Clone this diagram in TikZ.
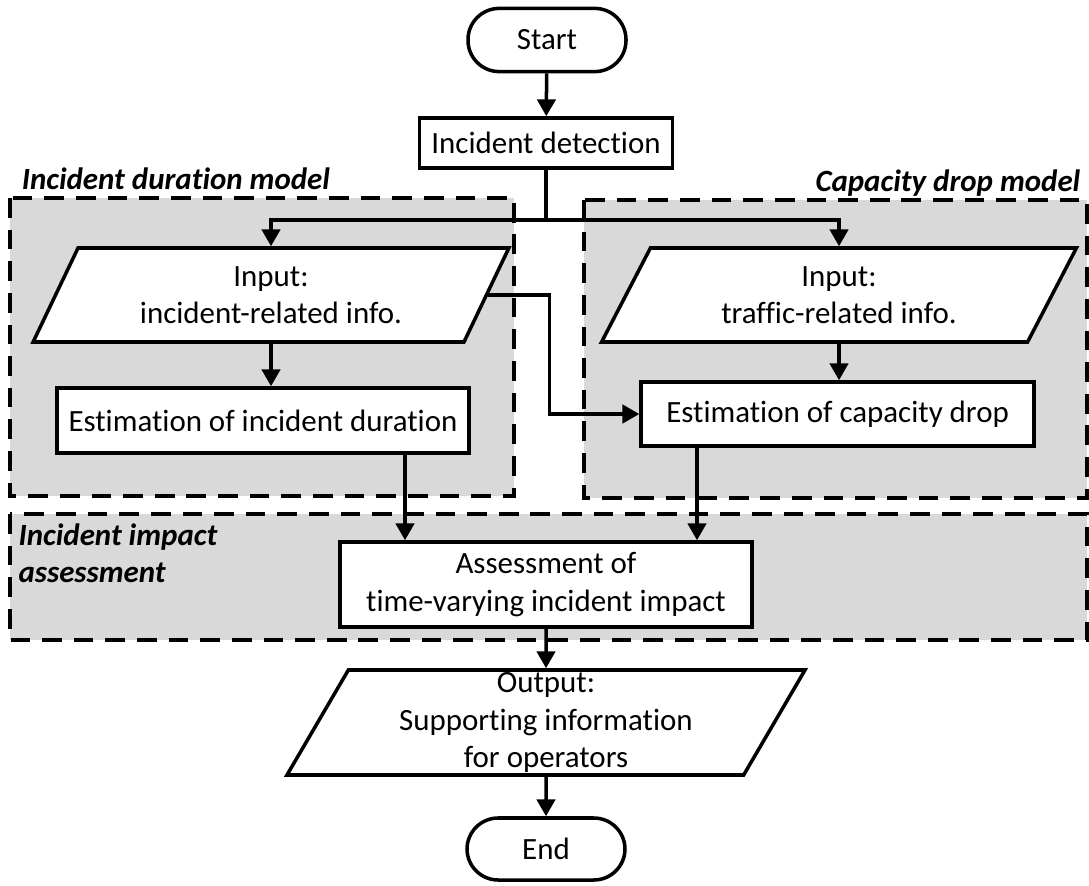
\documentclass[tikz,border=0pt]{standalone}
\usepackage{fontspec}
\setmainfont{Carlito}[Ligatures=CommonOff]
\usetikzlibrary{shapes.geometric, arrows.meta, positioning, calc}

\definecolor{grpgray}{HTML}{D9D9D9}

\begin{document}
\begin{tikzpicture}[
  line width=2.5pt,
  every node/.style={font=\fontsize{22}{26.5}\selectfont},
  term/.style={rectangle,draw,fill=white,rounded corners=0.78cm,minimum width=3.95cm,minimum height=1.58cm,align=center},
  proc/.style={rectangle,draw,fill=white,minimum height=1.6cm,align=center,inner sep=2pt},
  io/.style={trapezium,draw,fill=white,trapezium left angle=62,trapezium right angle=118,trapezium stretches=true,minimum width=11.9cm,minimum height=2.35cm,align=center,inner sep=0pt},
  grp/.style={draw,fill=grpgray,dash pattern=on 14pt off 8.5pt},
  glbl/.style={font=\fontsize{22}{26.5}\selectfont\bfseries\itshape,inner sep=0pt},
  arr/.style={-{Triangle[length=12pt,width=13pt]}}
]
  \useasboundingbox (0,0) rectangle (27.225,-22.15);

  % model groups
  \draw[grp] (0.25,-4.95) rectangle (12.85,-12.4);
  \draw[grp] (14.6,-5.0) rectangle (27.18,-12.45);
  \draw[grp] (0.25,-12.85) rectangle (27.18,-16.0);
  \node[glbl,anchor=base west] (lblL) at (0.5,-4.75) {Incident duration model};
  \node[glbl,anchor=base east] (lblR) at (27.05,-4.8) {Capacity drop model};
  \node[glbl,anchor=north west,align=left] (lblI) at (0.42,-13.05) {Incident impact\\assessment};

  % flow
  \node[term] (start) at (13.675,-1.0) {Start};
  \node[proc,minimum width=6.325cm,minimum height=1.25cm] (detect) at (13.65,-3.575) {Incident detection};
  \node[io] (inL) at (6.775,-7.375) {Input:\\incident-related info.};
  \node[io] (inR) at (20.975,-7.375) {Input:\\traffic-related info.};
  \node[proc,minimum width=10.3cm,minimum height=1.625cm] (estL) at (6.575,-10.5125) {Estimation of incident duration};
  \node[proc,minimum width=9.825cm] (estR) at (20.94,-10.35) {Estimation of capacity drop};
  \node[proc,minimum width=10.3cm,minimum height=2.125cm] (assess) at (13.65,-14.6125) {Assessment of\\time-varying incident impact};
  \node[io,minimum width=12.975cm,minimum height=2.625cm,trapezium left angle=65.4,trapezium right angle=114.6] (out) at (13.65,-18.0625) {Output:\\Supporting information\\for operators};
  \node[term,minimum height=1.55cm] (end) at (13.65,-21.225) {End};

  \coordinate (jn) at (13.65,-5.5);
  \draw[arr] (start) -- (detect);
  \draw (detect) -- (jn);
  \draw[arr] (jn) -| (inL.north);
  \draw[arr] (jn) -| (inR.north);
  \draw[arr] (inL.south) -- (inL.south |- estL.north);
  \draw[arr] (inR.south) -- (inR.south |- estR.north);
  \draw[arr] (inL.east) -- ++(1.525,0) |- (estR.west);
  \draw[arr] ([xshift=3.55cm]estL.south) -- ([xshift=3.55cm]estL.south |- assess.north);
  \draw[arr] ([xshift=-3.515cm]estR.south) -- ([xshift=-3.515cm]estR.south |- assess.north);
  \draw[arr] (assess) -- (out);
  \draw[arr] (out) -- (end);
\end{tikzpicture}
\end{document}
